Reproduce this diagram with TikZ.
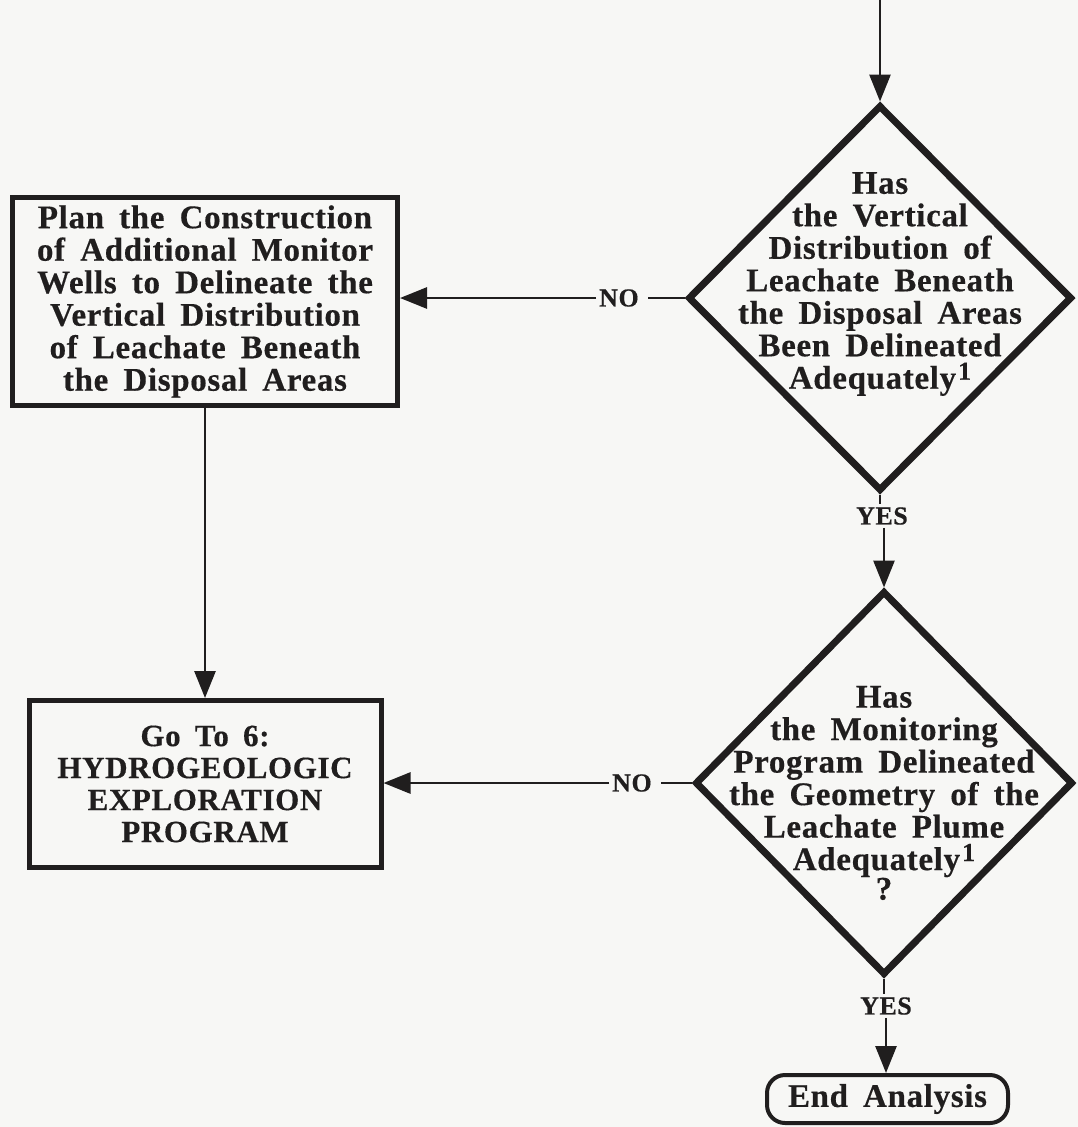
\documentclass[tikz,border=0pt]{standalone}
\usepackage{fontspec}
\setmainfont{Liberation Serif}[LetterSpace=2,WordSpace=1.7,BoldFeatures={FakeBold=0.4}]
\usetikzlibrary{shapes.geometric,arrows.meta}
\definecolor{paper}{RGB}{247,247,245}
\definecolor{ink}{RGB}{32,30,30}
\newcommand{\fnref}{\kern2pt\smash{\raisebox{9pt}{\fontsize{26}{26}\selectfont 1}}}

\begin{document}
\begin{tikzpicture}[x=1pt,y=-1pt,
  body/.style={font=\fontsize{33}{32.5}\selectfont\bfseries, align=center, text=ink},
  tag/.style={font=\fontsize{26}{26}\selectfont\bfseries, text=ink, inner sep=3pt},
  actbox/.style={body, draw=ink, line width=5pt, rectangle, inner sep=0pt},
  decide/.style={draw=ink, line width=7pt, diamond, inner sep=0pt},
  endbox/.style={body, draw=ink, line width=4pt, rounded corners=18pt,
    minimum width=241pt, minimum height=48pt, inner sep=0pt},
  flow/.style={draw=ink, line width=2.8pt, -{Triangle[length=27pt,width=21pt]}},
  plain/.style={draw=ink, line width=2.8pt},
]
\fill[paper] (0,0) rectangle (1078,1127);
\useasboundingbox (0,0) rectangle (1078,1127);

% decisions
\node[decide, minimum width=384pt, minimum height=386pt] (d1) at (880,298) {};
\node[body, inner sep=0pt, yshift=14pt] (t1) at (d1.center)
  {Has\\ the Vertical\\ Distribution of\\ Leachate Beneath\\ the Disposal Areas\\
   Been Delineated\\ Adequately\fnref};

\node[decide, minimum width=378pt, minimum height=384pt] (d2) at (884,783) {};
\node[body, inner sep=0pt, yshift=-10pt] (t2) at (d2.center)
  {Has\\ the Monitoring\\ Program Delineated\\ the Geometry of the\\ Leachate Plume\\
   Adequately\fnref\\[-3pt] ?};

% actions
\node[actbox, minimum width=385pt, minimum height=208pt] (b1) at (205,301.5)
  {Plan the Construction\\ of Additional Monitor\\ Wells to Delineate the\\
   Vertical Distribution\\ of Leachate Beneath\\ the Disposal Areas};
\node[actbox, font=\fontsize{31}{32}\selectfont\bfseries,
      minimum width=352pt, minimum height=167pt] (b2) at (205,784)
  {Go To 6:\\ HYDROGEOLOGIC\\ EXPLORATION\\ PROGRAM};

\node[endbox] (end) at (887.5,1099) {End Analysis};

% branch labels
\node[tag] (no1) at (619,298) {NO};
\node[tag] (no2) at (632,783) {NO};
\node[tag] (yes1) at (882,516) {YES};
\node[tag] (yes2) at (886,1006) {YES};

% connectors
\coordinate (entry) at (880,0);
\draw[flow] (entry) -- (d1.north);

\draw[plain] (d1.west) -- ([xshift=6pt]no1.east);
\draw[flow] (no1.west) -- (no1.west -| b1.east);

\draw[plain] (d1.south) -- (d1.south |- yes1.north);
\draw[flow] (d2.north |- yes1.south) -- (d2.north);

\draw[plain] (d2.west) -- ([xshift=6pt]no2.east);
\draw[flow] (no2.west) -- (no2.west -| b2.east);

\draw[plain] (d2.south) -- (d2.south |- yes2.north);
\draw[flow] (yes2.south) -- (yes2.south |- end.north);

\draw[flow] (b1.south) -- (b1.south |- b2.north);
\end{tikzpicture}
\end{document}
